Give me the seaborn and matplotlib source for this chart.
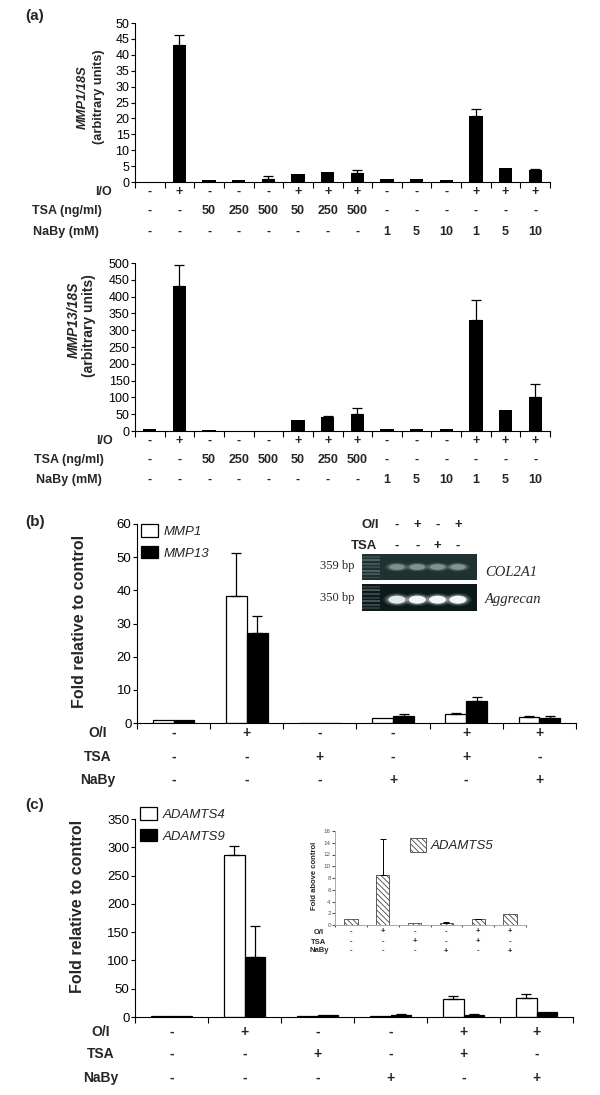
import matplotlib

matplotlib.use("Agg")

import matplotlib.pyplot as plt
import matplotlib.transforms as mtransforms
import numpy as np
import pandas as pd
import seaborn as sns
from matplotlib.patches import Ellipse, Patch, Rectangle

# ---- panel (a): single-gene qPCR, 14 conditions ----
a_io = ["-", "+", "-", "-", "-", "+", "+", "+", "-", "-", "-", "+", "+", "+"]
a_tsa = ["-", "-", "50", "250", "500", "50", "250", "500", "-", "-", "-", "-", "-", "-"]
a_naby = ["-", "-", "-", "-", "-", "-", "-", "-", "1", "5", "10", "1", "5", "10"]
mmp1_18s = [0.1, 43.2, 0.7, 0.5, 0.9, 2.6, 3.3, 2.9, 0.9, 0.8, 0.6, 20.7, 4.5, 3.9]
mmp1_18s_err = [0, 3.1, 0, 0, 1.0, 0, 0, 0.9, 0, 0, 0, 2.3, 0, 0.3]
mmp13_18s = [5, 432, 3, 0.5, 0.5, 34, 42, 50, 5, 5, 5, 331, 62, 102]
mmp13_18s_err = [0, 63, 0, 0, 0, 0, 4, 19, 0, 0, 0, 59, 0, 39]

# ---- panels (b) and (c): 6 conditions ----
bc_oi = ["-", "+", "-", "-", "+", "+"]
bc_tsa = ["-", "-", "+", "-", "+", "-"]
bc_naby = ["-", "-", "-", "+", "-", "+"]

mmp1_fold = [1.0, 38.4, 0, 1.6, 2.7, 1.9]
mmp1_fold_err = [0, 13.0, 0, 0, 0.3, 0.3]
mmp13_fold = [1.0, 27.1, 0, 2.0, 6.5, 1.5]
mmp13_fold_err = [0, 5.3, 0, 0.8, 1.2, 0.5]

adamts4 = [2, 287, 2, 2, 31, 34]
adamts4_err = [0, 15, 0, 0, 7, 6]
adamts9 = [2, 106, 3.5, 4, 4, 8]
adamts9_err = [0, 54, 0, 2, 2, 0]

adamts5 = [1.0, 8.5, 0.3, 0.35, 1.0, 1.9]
adamts5_err = [0, 6.1, 0, 0.1, 0.1, 0]

# ---- gel inset in (b) ----
gel_oi = ["-", "+", "-", "+"]
gel_tsa = ["-", "-", "+", "-"]
col2a1_band = [0.55, 0.6, 0.58, 0.6]
aggrecan_band = [0.9, 1.0, 1.0, 1.0]

sns.set_theme(style="ticks")
plt.rcParams["font.family"] = ["Liberation Sans", "DejaVu Sans"]
plt.rcParams["hatch.linewidth"] = 0.6
plt.rcParams["axes.linewidth"] = 0.8
plt.rcParams["axes.edgecolor"] = "black"

W, H = 600, 1095
fig = plt.figure(figsize=(W / 100, H / 100), dpi=100)
HATCH = "\\\\\\\\\\\\"


def fy(y):
    return 1 - y / H


def px_axes(x0, y0, x1, y1):
    return fig.add_axes([x0 / W, 1 - y1 / H, (x1 - x0) / W, (y1 - y0) / H])


def add_errors(ax, bars, values, errs, capsize=3.5, lw=0.9):
    xs = [b.get_x() + b.get_width() / 2 for b in bars]
    keep = [i for i, e in enumerate(errs) if e > 0]
    ax.errorbar(
        [xs[i] for i in keep],
        [values[i] for i in keep],
        yerr=[[0] * len(keep), [errs[i] for i in keep]],
        fmt="none",
        ecolor="black",
        elinewidth=lw,
        capsize=capsize,
        capthick=lw,
    )


def style_axes(ax, n, ymax, step, fs, tick_color="black"):
    ax.set_xlim(-0.5, n - 0.5)
    ax.set_ylim(0, ymax)
    ax.set_xticks(np.arange(-0.5, n, 1))
    ax.set_xticklabels([])
    ax.set_yticks(np.arange(0, ymax + step / 2, step))
    ax.tick_params(axis="x", direction="out", length=4, width=0.8, colors=tick_color)
    ax.tick_params(axis="y", direction="out", length=3, width=0.8, labelsize=fs, pad=1, colors=tick_color)
    ax.set_xlabel("")
    ax.set_ylabel("")
    sns.despine(ax=ax)


def condition_rows(ax, rows, fs, start=0):
    trans = mtransforms.blended_transform_factory(ax.transData, fig.transFigure)
    for label, marks, y, x, ha in rows:
        fig.text(x / W, fy(y), label, ha=ha, va="center", fontsize=fs, fontweight="bold")
        for i, mark in enumerate(marks):
            ax.text(start + i, fy(y), mark, transform=trans, ha="center", va="center",
                    fontsize=fs, fontweight="bold")


def single_panel(ax, values, errs, ymax, step):
    cats = [str(i) for i in range(len(values))]
    sns.barplot(x=cats, y=values, color="black", saturation=1, width=0.45,
                errorbar=None, linewidth=0, ax=ax)
    add_errors(ax, ax.containers[0], values, errs)
    style_axes(ax, len(values), ymax, step, 9)


def grouped_panel(ax, first, second, names, ymax, step):
    groups = [str(i) for i in range(len(first))]
    df = pd.DataFrame({
        "group": groups * 2,
        "gene": [names[0]] * len(first) + [names[1]] * len(second),
        "value": first + second,
    })
    sns.barplot(data=df, x="group", y="value", hue="gene",
                palette={names[0]: "white", names[1]: "black"}, saturation=1,
                width=0.57, edgecolor="black", linewidth=0.9, errorbar=None,
                legend=False, ax=ax)
    style_axes(ax, len(first), ymax, step, 9.5)
    return ax.containers


def gene_legend(ax, names, x, y):
    handles = [Patch(facecolor="white", edgecolor="black", linewidth=0.9),
               Patch(facecolor="black", edgecolor="black", linewidth=0.9)]
    ax.legend(handles, names, loc="upper left", bbox_to_anchor=(x / W, fy(y)),
              bbox_transform=fig.transFigure, frameon=False, borderpad=0,
              borderaxespad=0, handlelength=1.3, handleheight=1.1,
              handletextpad=0.4, labelspacing=0.6,
              prop={"style": "italic", "size": 9.5})


# ================= (a) top: MMP1 =================
fig.text(25 / W, fy(16), "(a)", fontsize=11, fontweight="bold", va="center")
ax1 = px_axes(135, 23, 550, 182)
single_panel(ax1, mmp1_18s, mmp1_18s_err, 50, 5)
fig.text(83 / W, fy(97), "MMP1/18S", rotation=90, ha="center", va="center",
         fontsize=9.3, fontweight="bold", style="italic")
fig.text(99 / W, fy(97), "(arbitrary units)", rotation=90, ha="center", va="center",
         fontsize=9.3, fontweight="bold")
condition_rows(ax1, [("I/O", a_io, 192, 112, "right"),
                     ("TSA (ng/ml)", a_tsa, 211, 32, "left"),
                     ("NaBy (mM)", a_naby, 232, 33, "left")], 9)

# ================= (a) bottom: MMP13 =================
ax2 = px_axes(135, 263, 550, 431)
single_panel(ax2, mmp13_18s, mmp13_18s_err, 500, 50)
fig.text(74 / W, fy(320), "MMP13/18S", rotation=90, ha="center", va="center",
         fontsize=10, fontweight="bold", style="italic")
fig.text(89 / W, fy(326), "(arbitrary units)", rotation=90, ha="center", va="center",
         fontsize=10, fontweight="bold")
condition_rows(ax2, [("I/O", a_io, 441, 113, "right"),
                     ("TSA (ng/ml)", a_tsa, 460, 34, "left"),
                     ("NaBy (mM)", a_naby, 480, 36, "left")], 9)

# ================= (b) MMP1 / MMP13 fold =================
fig.text(25 / W, fy(522), "(b)", fontsize=11, fontweight="bold", va="center")
axb = px_axes(137, 524, 576, 723)
cb = grouped_panel(axb, mmp1_fold, mmp13_fold, ["MMP1", "MMP13"], 60, 10)
add_errors(axb, cb[0], mmp1_fold, mmp1_fold_err)
add_errors(axb, cb[1], mmp13_fold, mmp13_fold_err)
gene_legend(axb, ["MMP1", "MMP13"], 141, 524)
fig.text(80 / W, fy(621), "Fold relative to control", rotation=90, ha="center",
         va="center", fontsize=11.5, fontweight="bold")
condition_rows(axb, [("O/I", bc_oi, 733, 98, "center"),
                     ("TSA", bc_tsa, 757, 98, "center"),
                     ("NaBy", bc_naby, 780, 98, "center")], 10)


def draw_gel(ax, bands, band_y, band_w, band_h, bg, band_color):
    ax.set_xlim(-0.72, 4.94)
    ax.set_ylim(0, 1)
    ax.set_facecolor(bg)
    ax.set_xticks([])
    ax.set_yticks([])
    for sp in ax.spines.values():
        sp.set_visible(False)
    for k, yy in enumerate(np.linspace(0.1, 0.9, 7)):
        ax.add_patch(Rectangle((-0.70, yy - 0.04), 0.85, 0.07, color="#8a9897",
                               alpha=0.25 + 0.1 * (k % 3), lw=0))
    for lane, val in enumerate(bands, start=1):
        for scale, alpha in [(1.6, 0.12), (1.3, 0.25), (1.0, val)]:
            ax.add_patch(Ellipse((lane, band_y), band_w * scale, band_h * scale,
                                 color=band_color, alpha=alpha, lw=0))


gel1 = px_axes(362, 554, 477, 580)
draw_gel(gel1, col2a1_band, 0.5, 0.75, 0.22, "#1f3131", "#aab8b6")
gel2 = px_axes(362, 584, 477, 611)
draw_gel(gel2, aggrecan_band, 0.42, 0.85, 0.3, "#0c1a1b", "#f2f7f5")
condition_rows(gel1, [("O/I", gel_oi, 525, 379, "right"),
                      ("TSA", gel_tsa, 546, 377, "right")], 9.5, start=1)
fig.text(355 / W, fy(566), "359 bp", ha="right", va="center", fontsize=9,
         family="Liberation Serif")
fig.text(355 / W, fy(598), "350 bp", ha="right", va="center", fontsize=9,
         family="Liberation Serif")
fig.text(485 / W, fy(572), "COL2A1", ha="left", va="center", fontsize=10.5,
         family="Liberation Serif", style="italic")
fig.text(485 / W, fy(600), "Aggrecan", ha="left", va="center", fontsize=10.5,
         family="Liberation Serif", style="italic")

# ================= (c) ADAMTS4 / ADAMTS9 fold =================
fig.text(25 / W, fy(805), "(c)", fontsize=11, fontweight="bold", va="center")
axc = px_axes(135, 819, 573, 1017)
cc = grouped_panel(axc, adamts4, adamts9, ["ADAMTS4", "ADAMTS9"], 350, 50)
add_errors(axc, cc[0], adamts4, adamts4_err)
add_errors(axc, cc[1], adamts9, adamts9_err)
gene_legend(axc, ["ADAMTS4", "ADAMTS9"], 140, 807)
fig.text(77 / W, fy(906), "Fold relative to control", rotation=90, ha="center",
         va="center", fontsize=11.5, fontweight="bold")
condition_rows(axc, [("O/I", bc_oi, 1032, 101, "center"),
                     ("TSA", bc_tsa, 1054, 101, "center"),
                     ("NaBy", bc_naby, 1078, 101, "center")], 10)

# inset: ADAMTS5
axi = px_axes(335, 831, 526, 925)
sns.barplot(x=[str(i) for i in range(len(adamts5))], y=adamts5, color="white",
            saturation=1, width=0.42, edgecolor="#444444", linewidth=0.6,
            hatch=HATCH, errorbar=None, ax=axi)
add_errors(axi, axi.containers[0], adamts5, adamts5_err, capsize=2, lw=0.7)
style_axes(axi, len(adamts5), 16, 2, 4.5, tick_color="#555555")
axi.tick_params(axis="x", length=1.5)
axi.tick_params(axis="y", length=2)
for side in ("left", "bottom"):
    axi.spines[side].set_color("#9a9a9a")
    axi.spines[side].set_linewidth(0.6)
axi.patch.set_alpha(0)
fig.text(315 / W, fy(876), "Fold above control", rotation=90, ha="center",
         va="center", fontsize=5.5, fontweight="bold")
condition_rows(axi, [("O/I", bc_oi, 932, 319, "center"),
                     ("TSA", bc_tsa, 942, 319, "center"),
                     ("NaBy", bc_naby, 951, 319, "center")], 5.5)
axi.legend([Patch(facecolor="white", edgecolor="#444444", hatch=HATCH, linewidth=0.6)],
           ["ADAMTS5"], loc="upper left", bbox_to_anchor=(410 / W, fy(838)),
           bbox_transform=fig.transFigure, frameon=False, borderpad=0,
           borderaxespad=0, handlelength=1.2, handleheight=1.25,
           handletextpad=0.4, prop={"style": "italic", "size": 9.5})

fig.savefig("out.png", dpi=100, facecolor="white")
